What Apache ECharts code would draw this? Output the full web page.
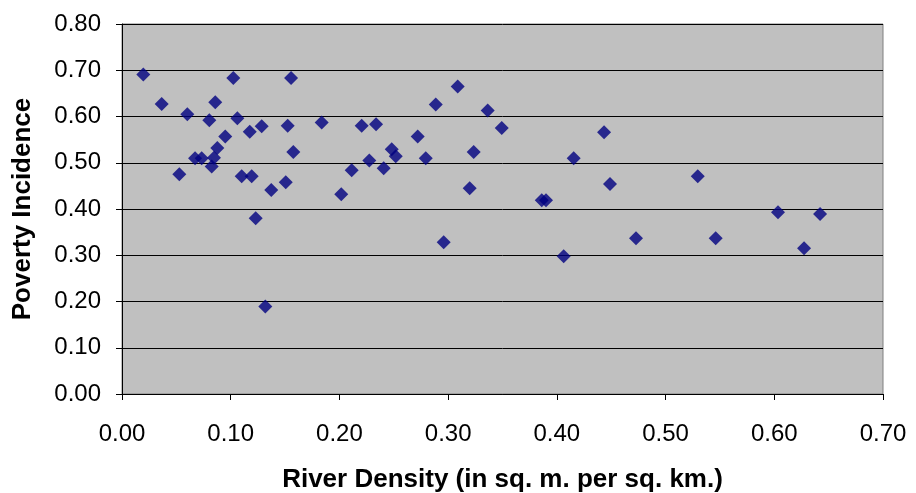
<!DOCTYPE html>
<html>
<head>
<meta charset="utf-8">
<script src="https://cdn.jsdelivr.net/npm/echarts@6/dist/echarts.min.js"></script>
<style>
  html, body { margin: 0; padding: 0; background: #fff; }
  #chart { width: 916px; height: 493px; }
</style>
</head>
<body>
<div id="chart"></div>
<script>
// river density (x) and poverty incidence (y)
var riverDensity = [
  0.0196, 0.0365, 0.0601, 0.0527, 0.0672, 0.0733, 0.0803, 0.0825, 0.0846, 0.0877,
  0.0858, 0.0950, 0.1024, 0.1061, 0.1101, 0.1193, 0.1175, 0.1230, 0.1285, 0.1318,
  0.1373, 0.1506, 0.1524, 0.1555, 0.1576, 0.1837, 0.2017, 0.2113, 0.2205, 0.2275,
  0.2337, 0.2407, 0.2481, 0.2518, 0.2720, 0.2794, 0.2886, 0.2959, 0.3088, 0.3198,
  0.3235, 0.3364, 0.3493, 0.3861, 0.3900, 0.4063, 0.4155, 0.4434, 0.4489, 0.4728,
  0.5296, 0.5461, 0.6034, 0.6274, 0.6421
];
var povertyIncidence = [
  0.691, 0.627, 0.605, 0.475, 0.510, 0.510, 0.592, 0.492, 0.511, 0.532,
  0.631, 0.557, 0.683, 0.596, 0.471, 0.471, 0.567, 0.380, 0.579, 0.189,
  0.441, 0.458, 0.580, 0.683, 0.523, 0.587, 0.432, 0.484, 0.580, 0.505,
  0.583, 0.488, 0.529, 0.514, 0.557, 0.510, 0.626, 0.328, 0.665, 0.445,
  0.523, 0.613, 0.575, 0.419, 0.419, 0.298, 0.510, 0.566, 0.454, 0.337,
  0.471, 0.337, 0.393, 0.315, 0.389
];

var points = riverDensity.map(function (x, i) { return [x, povertyIncidence[i]]; });

var font = '"Liberation Sans", Arial, sans-serif';
var fmt = function (v) { return v.toFixed(2); };

var chart = echarts.init(document.getElementById('chart'));
chart.setOption({
  animation: false,
  backgroundColor: '#ffffff',
  grid: {
    left: 122, right: 33, top: 24, bottom: 99,
    outerBoundsMode: 'none',
    containLabel: false,
    show: true,
    backgroundColor: '#c0c0c0',
    borderColor: '#808080',
    borderWidth: 1
  },
  xAxis: {
    type: 'value',
    min: 0, max: 0.7, interval: 0.1,
    name: 'River Density (in sq. m. per sq. km.)',
    nameLocation: 'middle',
    nameGap: 73,
    nameTextStyle: { fontFamily: font, fontSize: 26, fontWeight: 'bold', color: '#000' },
    axisLine: { show: true, lineStyle: { color: '#000', width: 1 } },
    axisTick: { show: true, inside: false, length: 6, lineStyle: { color: '#000' } },
    axisLabel: { formatter: fmt, fontFamily: font, fontSize: 24, color: '#000', margin: 28 },
    splitLine: { show: false }
  },
  yAxis: {
    type: 'value',
    min: 0, max: 0.8, interval: 0.1,
    name: 'Poverty Incidence',
    nameLocation: 'middle',
    nameRotate: 90,
    nameGap: 86,
    nameTextStyle: { fontFamily: font, fontSize: 26, fontWeight: 'bold', color: '#000' },
    axisLine: { show: true, lineStyle: { color: '#000', width: 1 } },
    axisTick: { show: true, inside: false, length: 6, lineStyle: { color: '#000' } },
    axisLabel: { formatter: fmt, fontFamily: font, fontSize: 24, color: '#000', margin: 21 },
    splitLine: { show: true, lineStyle: { color: '#000', width: 1 } }
  },
  series: [{
    type: 'scatter',
    symbol: 'diamond',
    symbolSize: 14,
    itemStyle: { color: '#000080' },
    data: points
  }]
});
</script>
</body>
</html>
